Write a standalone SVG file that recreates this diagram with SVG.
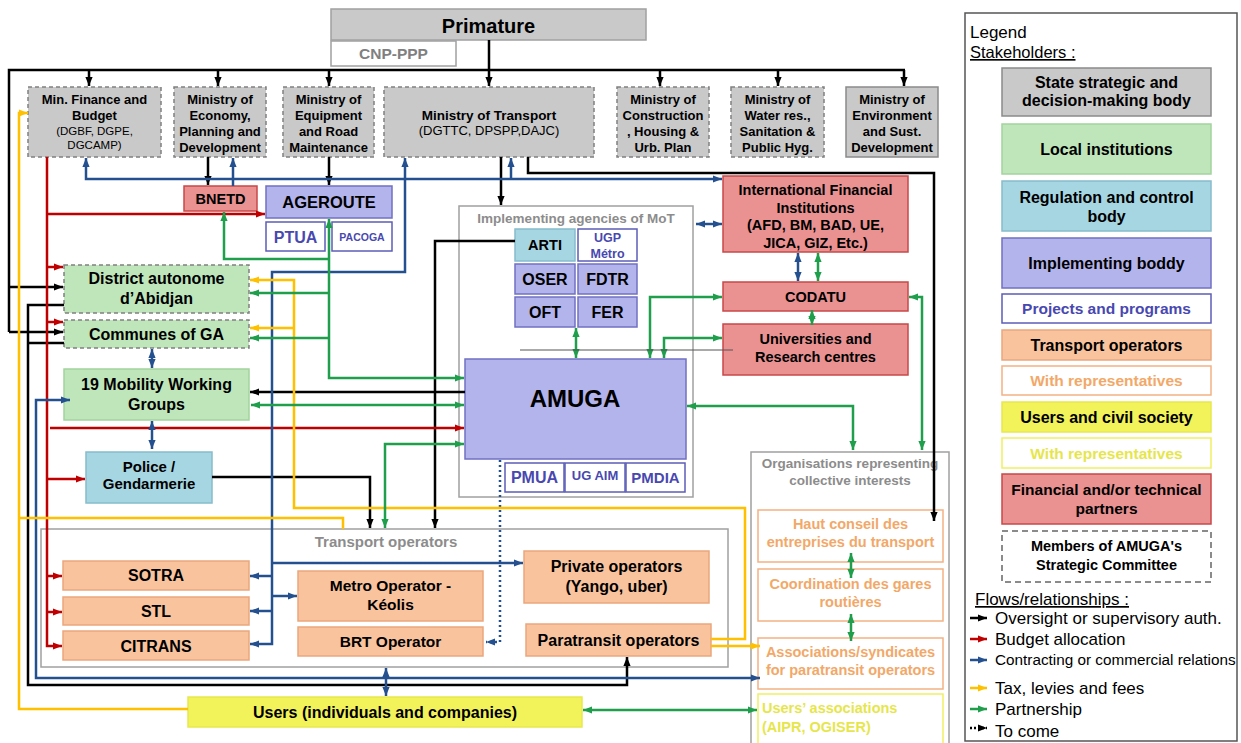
<svg xmlns="http://www.w3.org/2000/svg" width="1241" height="743" viewBox="0 0 1241 743">
<defs>
<style>
text{font-family:"Liberation Sans",Arial,Helvetica,sans-serif;text-anchor:middle;font-weight:bold;fill:#000}
.nb{font-weight:normal}
.gy{fill:#c9c9c9;stroke:#808080;stroke-width:1.5;stroke-dasharray:4 3}
.gs{fill:#c9c9c9;stroke:#8a8a8a;stroke-width:1.5}
.gn{fill:#bfe6bb;stroke:#a3d39e;stroke-width:1.5}
.gnd{fill:#bfe6bb;stroke:#808080;stroke-width:1.5;stroke-dasharray:4 3}
.lb{fill:#a7d6e3;stroke:#86bccb;stroke-width:1.5}
.pu{fill:#b4b4ec;stroke:#7070c4;stroke-width:1.5}
.pp{fill:#fff;stroke:#5c5cb8;stroke-width:1.5}
.ptx{fill:#4848b0}
.or{fill:#f9c39e;stroke:#eaa77c;stroke-width:1.5}
.orr{fill:#fff;stroke:#f4b183;stroke-width:1.5}
.otx{fill:#f2a868}
.ye{fill:#f2f25a;stroke:#e8e84e;stroke-width:1.5}
.yer{fill:#fff;stroke:#efef60;stroke-width:1.5}
.ytx{fill:#e6e64c}
.rd{fill:#ea9292;stroke:#c84848;stroke-width:1.5}
.ct{fill:#fff;stroke:#a0a0a0;stroke-width:1.5}
.ctx{fill:#8c8c8c}
.c{fill:none;stroke-width:2.5}
.k{stroke:#000}.r{stroke:#c00000}.b{stroke:#24508f}.y{stroke:#ffc000}.g{stroke:#1f9e4b}
.lg{text-anchor:start;font-weight:normal}
</style>
<marker id="mk" viewBox="0 0 10 10" refX="10" refY="5" markerWidth="9" markerHeight="9" markerUnits="userSpaceOnUse" orient="auto-start-reverse"><path d="M0,1 L10,5 L0,9 z" fill="#000"/></marker>
<marker id="mr" viewBox="0 0 10 10" refX="10" refY="5" markerWidth="9" markerHeight="9" markerUnits="userSpaceOnUse" orient="auto-start-reverse"><path d="M0,1 L10,5 L0,9 z" fill="#c00000"/></marker>
<marker id="mb" viewBox="0 0 10 10" refX="10" refY="5" markerWidth="9" markerHeight="9" markerUnits="userSpaceOnUse" orient="auto-start-reverse"><path d="M0,1 L10,5 L0,9 z" fill="#24508f"/></marker>
<marker id="my" viewBox="0 0 10 10" refX="10" refY="5" markerWidth="9" markerHeight="9" markerUnits="userSpaceOnUse" orient="auto-start-reverse"><path d="M0,1 L10,5 L0,9 z" fill="#ffc000"/></marker>
<marker id="mg" viewBox="0 0 10 10" refX="10" refY="5" markerWidth="9" markerHeight="9" markerUnits="userSpaceOnUse" orient="auto-start-reverse"><path d="M0,1 L10,5 L0,9 z" fill="#1f9e4b"/></marker>
</defs>
<rect width="1241" height="743" fill="#fff"/>

<g id="containers">
<g id="implementing-agencies">
<rect x="459" y="206" width="234" height="291" class="ct"/>
<text x="576" y="223" font-size="13.5" class="ctx">Implementing agencies of MoT</text>
</g>
<g id="transport-operators">
<rect x="41" y="529" width="687" height="138" class="ct"/>
<text x="386" y="547" font-size="15" class="ctx">Transport operators</text>
</g>
<g id="organisations">
<rect x="751" y="452" width="198" height="300" class="ct"/>
<text x="850" y="468" font-size="13.5" class="ctx">Organisations representing</text>
<text x="850" y="485" font-size="13.5" class="ctx">collective interests</text>
</g>
</g>

<g id="nodes">
<g id="primature"><rect x="331" y="9" width="315" height="31" class="gs" style="stroke:#a0a0a0"/><text x="488.5" y="33" font-size="20">Primature</text></g>
<g id="cnp-ppp"><rect x="331" y="41" width="125" height="25" class="ct"/><text x="393.5" y="59" font-size="15.5" fill="#808080" style="fill:#808080">CNP-PPP</text></g>

<g id="min-finance"><rect x="28" y="87" width="133" height="70" class="gy"/>
<text x="94.5" y="103.5" font-size="13">Min. Finance and</text><text x="94.5" y="119.5" font-size="13">Budget</text>
<text x="94.5" y="135" font-size="11.5" class="nb">(DGBF, DGPE,</text><text x="94.5" y="149" font-size="11.5" class="nb">DGCAMP)</text></g>
<g id="min-economy"><rect x="174" y="87" width="92" height="70" class="gy"/>
<text x="220" y="103.5" font-size="13">Ministry of</text><text x="220" y="119.5" font-size="13">Economy,</text><text x="220" y="135.5" font-size="13">Planning and</text><text x="220" y="151.5" font-size="13">Development</text></g>
<g id="min-equipment"><rect x="283" y="87" width="91" height="70" class="gy"/>
<text x="328.5" y="103.5" font-size="13">Ministry of</text><text x="328.5" y="119.5" font-size="13">Equipment</text><text x="328.5" y="135.5" font-size="13">and Road</text><text x="328.5" y="151.5" font-size="13">Maintenance</text></g>
<g id="min-transport"><rect x="384" y="87" width="210" height="70" class="gy"/>
<text x="489" y="120" font-size="13.5">Ministry of Transport</text><text x="489" y="135" font-size="13" class="nb">(DGTTC, DPSPP,DAJC)</text></g>
<g id="min-construction"><rect x="617" y="87" width="92" height="70" class="gy"/>
<text x="663" y="103.5" font-size="13">Ministry of</text><text x="663" y="119.5" font-size="13">Construction</text><text x="663" y="135.5" font-size="13">, Housing &amp;</text><text x="663" y="151.5" font-size="13">Urb. Plan</text></g>
<g id="min-water"><rect x="731" y="87" width="93" height="70" class="gy"/>
<text x="777.5" y="103.5" font-size="13">Ministry of</text><text x="777.5" y="119.5" font-size="13">Water res.,</text><text x="777.5" y="135.5" font-size="13">Sanitation &amp;</text><text x="777.5" y="151.5" font-size="13">Public Hyg.</text></g>
<g id="min-environment"><rect x="846" y="87" width="92" height="70" class="gs"/>
<text x="892" y="103.5" font-size="13">Ministry of</text><text x="892" y="119.5" font-size="13">Environment</text><text x="892" y="135.5" font-size="13">and Sust.</text><text x="892" y="151.5" font-size="13">Development</text></g>

<g id="bnetd"><rect x="184" y="186" width="73" height="25" class="rd"/><text x="220.5" y="204" font-size="14.5">BNETD</text></g>
<g id="ageroute"><rect x="266" y="186" width="126" height="32" class="pu"/><text x="329" y="208" font-size="16.5">AGEROUTE</text></g>
<g id="ptua"><rect x="266" y="222" width="59" height="29" class="pp"/><text x="295.5" y="242.5" font-size="16" class="ptx">PTUA</text></g>
<g id="pacoga"><rect x="332" y="222" width="60" height="29" class="pp"/><text x="362" y="240.5" font-size="10.5" class="ptx">PACOGA</text></g>

<g id="district"><rect x="64" y="265" width="185" height="48" class="gnd"/><text x="156.5" y="284" font-size="16">District autonome</text><text x="156.5" y="304" font-size="16">d’Abidjan</text></g>
<g id="communes"><rect x="64" y="320" width="185" height="28" class="gnd"/><text x="156.5" y="340" font-size="16">Communes of GA</text></g>
<g id="mwg"><rect x="64" y="369" width="185" height="51" class="gn"/><text x="156.5" y="390" font-size="16">19 Mobility Working</text><text x="156.5" y="410" font-size="16">Groups</text></g>
<g id="police"><rect x="86" y="452" width="126" height="51" class="lb"/><text x="149" y="472" font-size="15">Police /</text><text x="149" y="489" font-size="15">Gendarmerie</text></g>

<g id="arti"><rect x="515" y="229" width="60" height="32" class="lb"/><text x="545" y="250" font-size="14.5">ARTI</text></g>
<g id="ugp-metro"><rect x="578" y="229" width="59" height="32" class="pp"/><text x="607.5" y="242" font-size="12.5" class="ptx">UGP</text><text x="607.5" y="257.5" font-size="12.5" class="ptx">Métro</text></g>
<g id="oser"><rect x="515" y="264" width="60" height="30" class="pu"/><text x="545" y="285" font-size="16">OSER</text></g>
<g id="fdtr"><rect x="578" y="264" width="59" height="30" class="pu"/><text x="607.5" y="285" font-size="16">FDTR</text></g>
<g id="oft"><rect x="515" y="297" width="60" height="30" class="pu"/><text x="545" y="318" font-size="16">OFT</text></g>
<g id="fer"><rect x="578" y="297" width="59" height="30" class="pu"/><text x="607.5" y="318" font-size="16">FER</text></g>
<g id="amuga"><rect x="465" y="359" width="221" height="100" class="pu"/><text x="575" y="407" font-size="24">AMUGA</text></g>
<g id="pmua"><rect x="505" y="463" width="59" height="29" class="pp"/><text x="534.5" y="483" font-size="16" class="ptx">PMUA</text></g>
<g id="ug-aim"><rect x="565" y="463" width="60" height="29" class="pp"/><text x="595" y="480" font-size="13" class="ptx">UG AIM</text></g>
<g id="pmdia"><rect x="626" y="463" width="59" height="29" class="pp"/><text x="655.5" y="483" font-size="15" class="ptx">PMDIA</text></g>

<g id="ifi"><rect x="723" y="176" width="185" height="76" class="rd"/>
<text x="815.5" y="195" font-size="14.5">International Financial</text><text x="815.5" y="212.5" font-size="14.5">Institutions</text><text x="815.5" y="230" font-size="14.5">(AFD, BM, BAD, UE,</text><text x="815.5" y="248" font-size="14.5">JICA, GIZ, Etc.)</text></g>
<g id="codatu"><rect x="723" y="282" width="185" height="29" class="rd"/><text x="815.5" y="302" font-size="14.5">CODATU</text></g>
<g id="universities"><rect x="723" y="324" width="185" height="51" class="rd"/><text x="815.5" y="344" font-size="14.5">Universities and</text><text x="815.5" y="362" font-size="14.5">Research centres</text></g>

<g id="sotra"><rect x="63" y="561" width="186" height="29" class="or"/><text x="156" y="581" font-size="16">SOTRA</text></g>
<g id="stl"><rect x="63" y="597" width="186" height="28" class="or"/><text x="156" y="617" font-size="16">STL</text></g>
<g id="citrans"><rect x="63" y="631" width="186" height="29" class="or"/><text x="156" y="651.5" font-size="16">CITRANS</text></g>
<g id="metro-operator"><rect x="298" y="571" width="185" height="50" class="or"/><text x="390.5" y="591" font-size="15.5">Metro Operator -</text><text x="390.5" y="609.5" font-size="15.5">Kéolis</text></g>
<g id="brt-operator"><rect x="298" y="627" width="185" height="29" class="or"/><text x="390.5" y="647" font-size="15.5">BRT Operator</text></g>
<g id="private-operators"><rect x="524" y="551" width="185" height="52" class="or"/><text x="616.5" y="571.5" font-size="16">Private operators</text><text x="616.5" y="591.5" font-size="16">(Yango, uber)</text></g>
<g id="paratransit"><rect x="526" y="624" width="185" height="32" class="or"/><text x="618.5" y="645.5" font-size="16">Paratransit operators</text></g>
<g id="users"><rect x="188" y="697" width="394" height="30" class="ye"/><text x="385" y="717.5" font-size="16">Users (individuals and companies)</text></g>

<g id="haut-conseil"><rect x="758" y="510" width="185" height="52" class="orr"/><text x="850.5" y="529" font-size="14.5" class="otx">Haut conseil des</text><text x="850.5" y="547" font-size="14.5" class="otx">entreprises du transport</text></g>
<g id="coordination"><rect x="758" y="569" width="185" height="52" class="orr"/><text x="850.5" y="589" font-size="14.5" class="otx">Coordination des gares</text><text x="850.5" y="606.5" font-size="14.5" class="otx">routières</text></g>
<g id="associations"><rect x="758" y="638" width="185" height="51" class="orr"/><text x="850.5" y="657" font-size="14.5" class="otx">Associations/syndicates</text><text x="850.5" y="675" font-size="14.5" class="otx">for paratransit operators</text></g>
<g id="users-associations"><rect x="758" y="694" width="185" height="52" class="yer"/><text x="762" y="713" font-size="14.5" class="ytx" style="text-anchor:start">Users’ associations</text><text x="762" y="732" font-size="14.5" class="ytx" style="text-anchor:start">(AIPR, OGISER)</text></g>
</g>

<g id="connectors">
<!-- black: oversight -->
<path class="c k" d="M489,40 V86" marker-end="url(#mk)"/>
<path class="c k" d="M9,332 V70 H905"/>
<path class="c k" d="M9,332 H63" marker-end="url(#mk)"/>
<path class="c k" d="M9,287 H63" marker-end="url(#mk)"/>
<path class="c k" d="M89,70 V86" marker-end="url(#mk)"/>
<path class="c k" d="M218,70 V86" marker-end="url(#mk)"/>
<path class="c k" d="M329,70 V86" marker-end="url(#mk)"/>
<path class="c k" d="M660,70 V86" marker-end="url(#mk)"/>
<path class="c k" d="M778,70 V86" marker-end="url(#mk)"/>
<path class="c k" d="M904,70 V86" marker-end="url(#mk)"/>
<path class="c k" d="M208,157 V185" marker-end="url(#mk)"/>
<path class="c k" d="M329,157 V185" marker-end="url(#mk)"/>
<path class="c k" d="M501,157 V205" marker-end="url(#mk)"/>
<path class="c k" d="M528,157 V173 H934 V521" marker-end="url(#mk)"/>
<path class="c k" d="M64,305 H28 V685 H627 V657" marker-end="url(#mk)"/>
<path class="c k" d="M64,343 H28"/>
<path class="c k" d="M465,392 H250" marker-end="url(#mk)"/>
<path class="c k" d="M212,477 H370 V528" marker-end="url(#mk)"/>
<path class="c k" d="M515,241 H435 V528" marker-end="url(#mk)"/>
<!-- red: budget -->
<path class="c r" d="M47,157 V646 H62" marker-end="url(#mr)"/>
<path class="c r" d="M47,214 H265" marker-end="url(#mr)"/>
<path class="c r" d="M47,267 H63" marker-end="url(#mr)"/>
<path class="c r" d="M47,322 H63" marker-end="url(#mr)"/>
<path class="c r" d="M50,428 H464" marker-end="url(#mr)"/>
<path class="c r" d="M47,479 H85" marker-end="url(#mr)"/>
<path class="c r" d="M47,576 H62" marker-end="url(#mr)"/>
<path class="c r" d="M47,612 H62" marker-end="url(#mr)"/>
<!-- blue: contracting -->
<path class="c b" d="M86,158 V179 H722" marker-start="url(#mb)" marker-end="url(#mb)"/>
<path class="c b" d="M233,186 V158" marker-end="url(#mb)"/>
<path class="c b" d="M511,179 V158" marker-end="url(#mb)"/>
<path class="c b" d="M405,158 V272 H272 V644 H250" marker-start="url(#mb)" marker-end="url(#mb)"/>
<path class="c b" d="M272,576 H250" marker-end="url(#mb)"/>
<path class="c b" d="M272,611 H250" marker-end="url(#mb)"/>
<path class="c b" d="M272,596 H297" marker-end="url(#mb)"/>
<path class="c b" d="M272,563 H523" marker-end="url(#mb)"/>
<path class="c b" d="M696,224 H722" marker-start="url(#mb)" marker-end="url(#mb)"/>
<path class="c b" d="M798,253 V281" marker-start="url(#mb)" marker-end="url(#mb)"/>
<path class="c b" d="M152,349 V368" marker-start="url(#mb)" marker-end="url(#mb)"/>
<path class="c b" d="M152,421 V449" marker-start="url(#mb)" marker-end="url(#mb)"/>
<path class="c b" d="M70,400 H36 V678 H760" marker-start="url(#mb)" marker-end="url(#mb)"/>
<path class="c b" d="M386,668 V696" marker-start="url(#mb)" marker-end="url(#mb)"/>
<path class="c b" d="M500,460 V642 H486" stroke-dasharray="2 3" marker-end="url(#mb)"/>
<!-- yellow: tax -->
<path class="c y" d="M28,113 H19 V709 H188" marker-start="url(#my)"/>
<path class="c y" d="M19,518 H343 V529"/>
<path class="c y" d="M711,639 H745 V508 H294 V280 H250" marker-end="url(#my)"/>
<path class="c y" d="M294,328 H250" marker-end="url(#my)"/>
<path class="c y" d="M711,646 H760" marker-end="url(#my)"/>
<!-- green: partnership -->
<path class="c g" d="M224,212 V259 H329" marker-start="url(#mg)"/>
<path class="c g" d="M329,219 V378 H464" marker-start="url(#mg)" marker-end="url(#mg)"/>
<path class="c g" d="M329,293 H250" marker-end="url(#mg)"/>
<path class="c g" d="M329,338 H250" marker-end="url(#mg)"/>
<path class="c g" d="M251,405 H464" marker-start="url(#mg)" marker-end="url(#mg)"/>
<path class="c g" d="M464,444 H385 V528" marker-start="url(#mg)" marker-end="url(#mg)"/>
<path class="c g" d="M576,328 V358" marker-start="url(#mg)" marker-end="url(#mg)"/>
<path class="c g" d="M650,358 V297 H722" marker-start="url(#mg)" marker-end="url(#mg)"/>
<path class="c g" d="M664,358 V338 H722" marker-start="url(#mg)" marker-end="url(#mg)"/>
<path class="c g" d="M818,253 V281" marker-start="url(#mg)" marker-end="url(#mg)"/>
<path class="c g" d="M812,310 V325" marker-start="url(#mg)" marker-end="url(#mg)"/>
<path class="c g" d="M687,406 H853 V450" marker-start="url(#mg)" marker-end="url(#mg)"/>
<path class="c g" d="M909,297 H922 V450" marker-start="url(#mg)" marker-end="url(#mg)"/>
<path class="c g" d="M851,553 V578" marker-start="url(#mg)" marker-end="url(#mg)"/>
<path class="c g" d="M851,614 V641" marker-start="url(#mg)" marker-end="url(#mg)"/>
<path class="c g" d="M583,710 H757" marker-start="url(#mg)" marker-end="url(#mg)"/>
<!-- thin line -->
<path d="M520,350 H733" fill="none" stroke="#555" stroke-width="1"/>
</g>

<g id="legend">
<rect x="965" y="13" width="272" height="728" fill="#fff" stroke="#555" stroke-width="1.5"/>
<text x="970" y="38" font-size="17" class="lg">Legend</text>
<text x="970" y="58" font-size="16.5" class="lg" text-decoration="underline">Stakeholders :</text>
<rect x="1002" y="68" width="209" height="48" class="gs"/><text x="1106.5" y="88" font-size="16">State strategic and</text><text x="1106.5" y="106" font-size="16">decision-making body</text>
<rect x="1002" y="124" width="209" height="50" class="gn"/><text x="1106.5" y="155" font-size="16">Local institutions</text>
<rect x="1002" y="181" width="209" height="50" class="lb"/><text x="1106.5" y="203" font-size="16">Regulation and control</text><text x="1106.5" y="222" font-size="16">body</text>
<rect x="1002" y="238" width="209" height="50" class="pu"/><text x="1106.5" y="269" font-size="16">Implementing boddy</text>
<rect x="1002" y="294" width="209" height="29" class="pp"/><text x="1106.5" y="314" font-size="15.5" class="ptx">Projects and programs</text>
<rect x="1002" y="330" width="209" height="30" class="or"/><text x="1106.5" y="350.5" font-size="16">Transport operators</text>
<rect x="1002" y="366" width="209" height="29" class="orr"/><text x="1106.5" y="386" font-size="15.5" class="otx">With representatives</text>
<rect x="1002" y="402" width="209" height="30" class="ye"/><text x="1106.5" y="422.5" font-size="16">Users and civil society</text>
<rect x="1002" y="438" width="209" height="30" class="yer"/><text x="1106.5" y="458.5" font-size="15.5" class="ytx">With representatives</text>
<rect x="1002" y="474" width="209" height="50" class="rd"/><text x="1106.5" y="495" font-size="15.5">Financial and/or technical</text><text x="1106.5" y="514" font-size="15.5">partners</text>
<rect x="1002" y="531" width="209" height="51" fill="#fff" stroke="#666" stroke-width="1.5" stroke-dasharray="6 4"/><text x="1106.5" y="551" font-size="14.5">Members  of  AMUGA's</text><text x="1106.5" y="570" font-size="14.5">Strategic  Committee</text>
<text x="975" y="605" font-size="17" class="lg" text-decoration="underline">Flows/relationships :</text>
<path class="c k" d="M970,618 H987" stroke-width="2" marker-end="url(#mk)"/><text x="995" y="624" font-size="17" class="lg">Oversight or supervisory auth.</text>
<path class="c r" d="M970,639 H987" stroke-width="2" marker-end="url(#mr)"/><text x="995" y="645" font-size="17" class="lg">Budget allocation</text>
<path class="c b" d="M970,660 H987" stroke-width="2" marker-end="url(#mb)"/><text x="995" y="665" font-size="15.3" class="lg">Contracting or commercial relations</text>
<path class="c y" d="M970,688 H987" stroke-width="2" marker-end="url(#my)"/><text x="995" y="694" font-size="17" class="lg">Tax,  levies and fees</text>
<path class="c g" d="M970,709 H987" stroke-width="2" marker-end="url(#mg)"/><text x="995" y="715" font-size="17" class="lg">Partnership</text>
<path class="c k" d="M970,728 H987" stroke-width="2" stroke-dasharray="2 2" marker-end="url(#mk)"/><text x="995" y="737" font-size="17" class="lg">To come</text>
</g>
</svg>
